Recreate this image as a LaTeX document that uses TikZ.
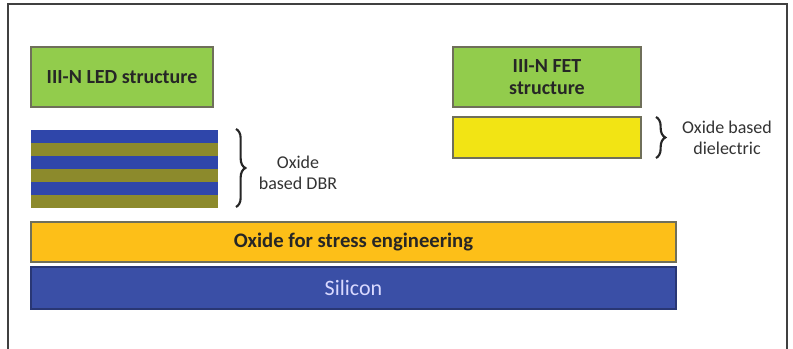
\documentclass[tikz,border=0pt]{standalone}
\usepackage{fontspec}
\setmainfont{Carlito}
\usepackage{tikz}
\usetikzlibrary{positioning,decorations.pathreplacing}
\definecolor{ledgreen}{HTML}{92CC4C}
\definecolor{dbrblue}{HTML}{2F46AA}
\definecolor{dbrolive}{HTML}{8C8A2C}
\definecolor{dielyellow}{HTML}{F2E414}
\definecolor{stressorange}{HTML}{FDBF18}
\definecolor{siblue}{HTML}{3A4FA6}
\definecolor{boxline}{HTML}{6F6F5A}

\begin{document}
\begin{tikzpicture}[x=0.75pt,y=0.75pt,yscale=-1,xscale=1,
  layer/.style={draw=boxline,line width=0.8pt,inner sep=0pt,font=\fontsize{15}{17}\selectfont\bfseries,align=center,text=black!85},
  stripe/.style={inner sep=0pt,minimum width=140.25pt,minimum height=9.75pt},
  bracebar/.style={decorate,decoration={brace,amplitude=7pt},line width=1.6pt,black!85},
  note/.style={font=\fontsize{13.5}{15.5}\selectfont,text=black!80,align=center}]
\useasboundingbox (0,0) rectangle (793,349);
\fill[white] (0,0) rectangle (793,349);
% frame
\draw[line width=1.2pt,black!75] (8,352) -- (8,4) -- (787,4) -- (787,352);

% LED side
\node[layer,fill=ledgreen,minimum width=136.5pt,minimum height=45pt] (led) at (122,77) {III-N LED structure};
\foreach \i/\c in {0/dbrblue,1/dbrolive,2/dbrblue,3/dbrolive,4/dbrblue,5/dbrolive}
  \node[stripe,fill=\c] (dbr\i) at (124.5,136.5+13*\i) {};
\draw[bracebar] (236,129) -- (236,207);
\node[note] (dbrlabel) at (298,173) {Oxide\\based DBR};

% FET side
\node[layer,fill=ledgreen,minimum width=141pt,minimum height=45pt] (fet) at (547,77) {III-N FET\\structure};
\node[layer,fill=dielyellow,minimum width=141pt,minimum height=30.75pt] (diel) at (547,137.5) {};
\draw[bracebar] (656,117) -- (656,158);
\node[note] (diellabel) at (727,138) {Oxide based\\dielectric};

% substrate stack
\node[layer,fill=stressorange,font=\fontsize{15.5}{17}\selectfont\bfseries,minimum width=483.75pt,minimum height=30pt] (stress) at (353.5,242) {Oxide for stress engineering};
\node[layer,draw=siblue!70!black,fill=siblue,text=white!85!blue,font=\fontsize{16.5}{18}\selectfont,minimum width=483.75pt,minimum height=31.5pt] (si) at (353.5,288) {Silicon};
\end{tikzpicture}
\end{document}
